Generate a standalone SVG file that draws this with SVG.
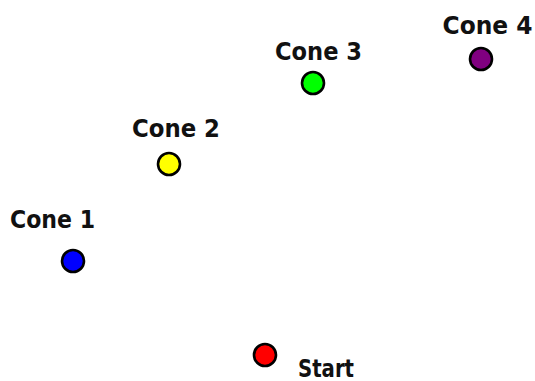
<svg xmlns="http://www.w3.org/2000/svg" width="535" height="381" viewBox="0 0 535 381">
<style>
.cone{stroke:#000;stroke-width:2.6}
.lbl{font-family:"DejaVu Sans","Liberation Sans",sans-serif;font-weight:bold;font-size:24px;fill:#111;text-anchor:middle}
</style>
<rect width="535" height="381" fill="#fff"/>
<g id="connectors"/>
<g id="start">
<circle class="cone" cx="265" cy="355" r="11" fill="#ff0000"/>
<text class="lbl" x="326" y="377" textLength="56" lengthAdjust="spacingAndGlyphs">Start</text>
</g>
<g id="cone1">
<circle class="cone" cx="73" cy="261" r="11" fill="#0000ff"/>
<text class="lbl" x="52.5" y="228" textLength="85" lengthAdjust="spacingAndGlyphs">Cone 1</text>
</g>
<g id="cone2">
<circle class="cone" cx="169" cy="164" r="11" fill="#ffff00"/>
<text class="lbl" x="176" y="137" textLength="88" lengthAdjust="spacingAndGlyphs">Cone 2</text>
</g>
<g id="cone3">
<circle class="cone" cx="313" cy="83" r="11" fill="#00ff00"/>
<text class="lbl" x="318.5" y="60" textLength="87" lengthAdjust="spacingAndGlyphs">Cone 3</text>
</g>
<g id="cone4">
<circle class="cone" cx="481" cy="59" r="11" fill="#800080"/>
<text class="lbl" x="487.5" y="34" textLength="90" lengthAdjust="spacingAndGlyphs">Cone 4</text>
</g>
</svg>
